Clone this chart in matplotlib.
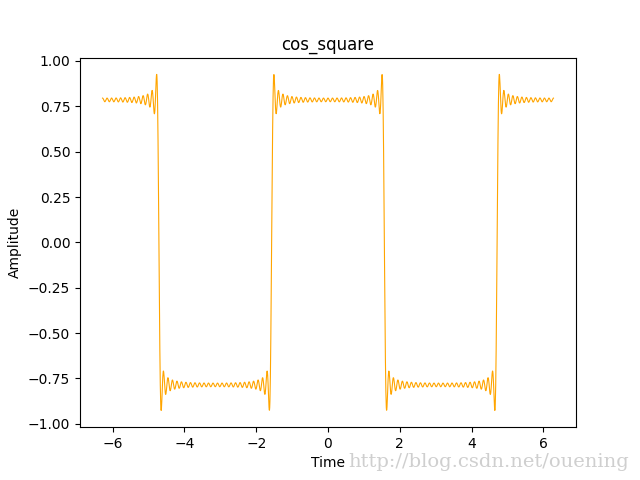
import numpy as np
import matplotlib
matplotlib.use("Agg")
import matplotlib.pyplot as plt

# Fourier series parameters (odd harmonics of a cosine square wave)
harmonics = [1, 3, 5, 7, 9, 11, 13, 15, 17, 19, 21, 23, 25, 27, 29, 31, 33, 35, 37, 39, 41, 43, 45, 47, 49]
signs = [1, -1, 1, -1, 1, -1, 1, -1, 1, -1, 1, -1, 1, -1, 1, -1, 1, -1, 1, -1, 1, -1, 1, -1, 1]
t_start, t_end, n_samples = -2 * np.pi, 2 * np.pi, 2000

title = "cos_square"
xlabel = "Time"
ylabel = "Amplitude"
watermark = "http://blog.csdn.net/ouening"

t = np.linspace(t_start, t_end, n_samples)
y = np.zeros_like(t)
for n, s in zip(harmonics, signs):
    y += s * np.cos(n * t) / n

fig, ax = plt.subplots(figsize=(6.4, 4.8), dpi=100)
ax.plot(t, y, color="orange", linewidth=0.8)
ax.set_title(title)
ax.set_xlabel(xlabel)
ax.set_ylabel(ylabel)
fig.text(0.544, 0.028, watermark, family="DejaVu Serif", fontsize=14,
         color="#cfcfcf", ha="left", va="baseline")
fig.savefig("out.png", dpi=100)
